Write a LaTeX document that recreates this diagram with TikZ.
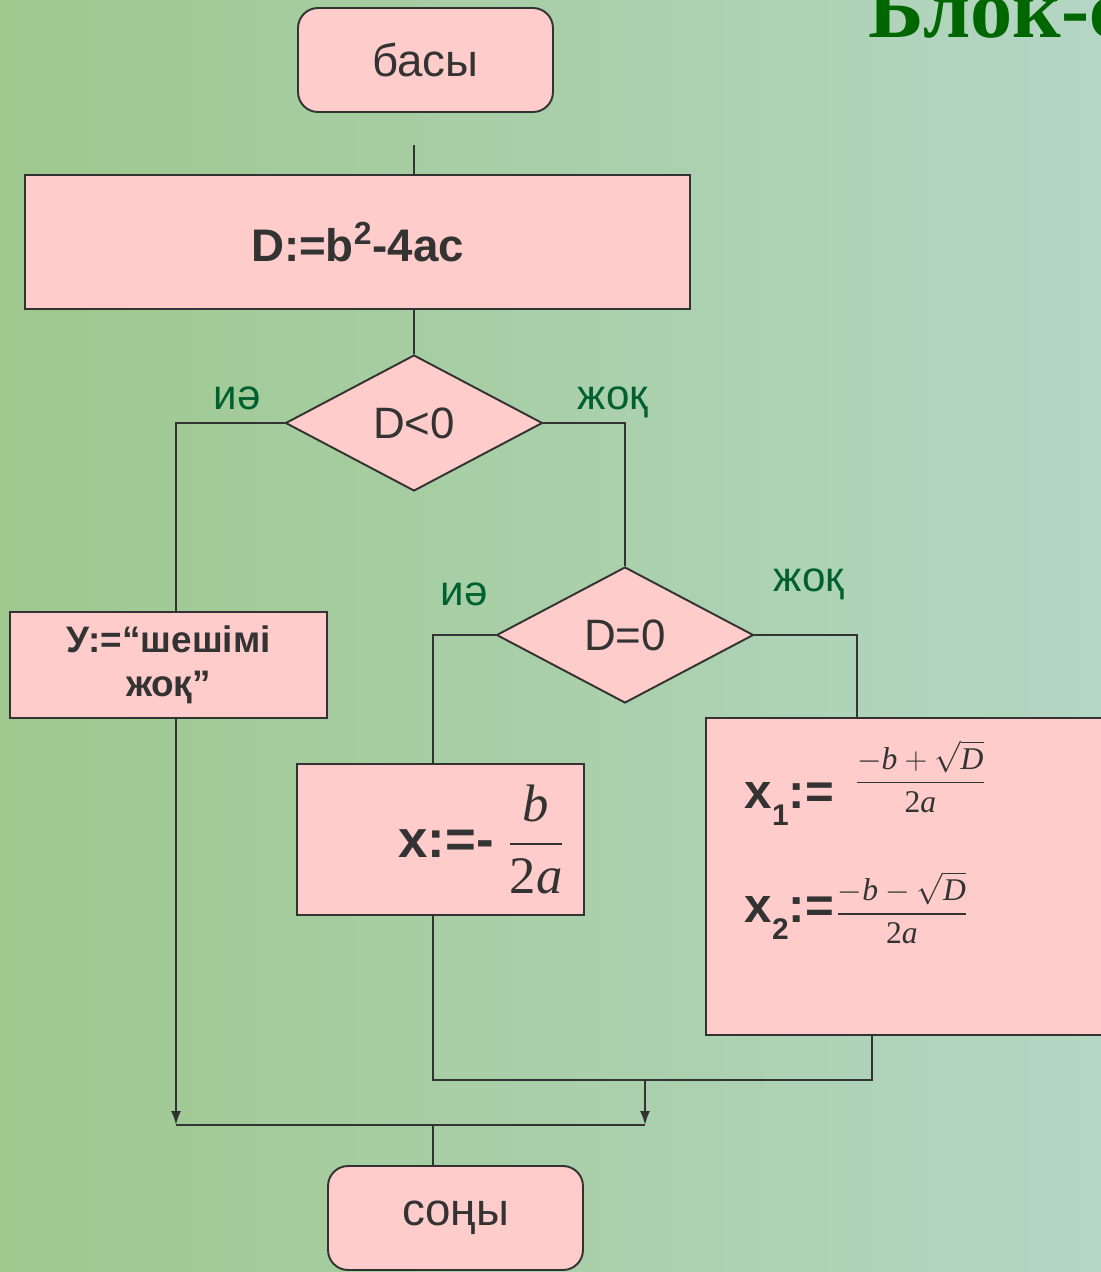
\documentclass[tikz,border=0pt]{standalone}
\usepackage{fix-cm}
\usepackage{amsmath}
\usepackage[no-math]{fontspec}
\setmainfont{Liberation Sans}
\newfontfamily\titlefont{Liberation Serif}
\usepackage{tikz}
\usetikzlibrary{shapes.geometric,arrows.meta}
\definecolor{bgleft}{RGB}{158,200,142}
\definecolor{bgmid}{RGB}{192,216,176}
\definecolor{bgright}{RGB}{180,214,196}
\definecolor{boxpink}{RGB}{255,204,204}
\definecolor{inkgray}{RGB}{51,51,51}
\definecolor{labelgreen}{RGB}{0,96,48}
\definecolor{titlegreen}{RGB}{0,102,0}
\newcommand{\lowsub}[1]{\raisebox{-10pt}{\fontsize{17}{17}\selectfont #1}}
\newcommand{\tv}[1]{\text{\titlefont\mdseries\itshape #1}}
\newcommand{\tn}[1]{\text{\titlefont\mdseries\upshape #1}}

\begin{document}
\begin{tikzpicture}
[x=0.02cm,y=-0.02cm,line width=1.1pt,color=inkgray,>={Latex[length=0.28cm,width=0.2cm]},
 box/.style={rectangle,draw,fill=boxpink,inner sep=0pt},
 term/.style={box,rounded corners=0.4cm,minimum width=5.1cm,minimum height=2.08cm,font=\fontsize{26}{30}\selectfont},
 cond/.style={diamond,draw,fill=boxpink,aspect=1.9,inner sep=0pt,minimum width=5.14cm,minimum height=2.72cm,font=\fontsize{25}{30}\selectfont},
 lbl/.style={anchor=base,text=labelgreen,font=\fontsize{24}{28}\selectfont}]
\useasboundingbox (0,0) rectangle (1101,1272);
\clip (0,0) rectangle (1101,1272);
\shade[left color=bgleft,middle color=bgmid,right color=bgright] (0,0) rectangle (1101,1272);
\node[anchor=base west,text=titlegreen,font=\titlefont\bfseries\fontsize{48}{52}\selectfont] (title) at (862,37) {Блок-схема};

% blocks
\node[term] (basy) at (425.5,60) {басы};
\node[box,minimum width=13.3cm,minimum height=2.68cm,font=\bfseries\fontsize{26}{30}\selectfont] (disc) at (357.5,242) {D:=b\textsuperscript{2}-4ac};
\node[cond] (dlt) at (414,423) {D<0};
\node[cond] (deq) at (625,635) {D=0};
\node[box,minimum width=6.34cm,minimum height=2.12cm,align=center,font=\bfseries\fontsize{21}{25}\selectfont] (nosol) at (168.5,665) {У:=“шешімі\\жоқ”};
\node[box,minimum width=5.74cm,minimum height=3.02cm,font=\fontsize{30}{34}\selectfont] (xone) at (440.5,839.5) {\hspace{1.64cm}\textbf{x:=-}\hspace{8pt}$\dfrac{\tv{b}}{\tn{2}\tv{a}}$};
\node[box,minimum width=8.88cm,minimum height=6.34cm] (roots) at (928,876.5) {};
\node[anchor=base west,font=\bfseries\fontsize{28}{32}\selectfont] (xa) at (738,808) {x\lowsub{1}:=\hspace{12pt}\raisebox{10pt}{\fontsize{18}{20}\selectfont$\dfrac{-\tv{b}+\sqrt{\tv{D}}}{\tn{2}\tv{a}}$}};
\node[anchor=base west,font=\bfseries\fontsize{28}{32}\selectfont] (xb) at (738,922) {x\lowsub{2}:=\hspace{1pt}{\fontsize{18}{20}\selectfont$\dfrac{-\tv{b}-\sqrt{\tv{D}}}{\tn{2}\tv{a}}$}};
\node[term] (sony) at (455.5,1218) {соңы};

% labels
\node[lbl] (yes1) at (237,409) {иә};
\node[lbl] (no1) at (613,409) {жоқ};
\node[lbl] (yes2) at (464,605) {иә};
\node[lbl] (no2) at (809,591) {жоқ};

% connectors
\coordinate (top) at (414,145);
\coordinate (lx) at (176,1125);
\coordinate (mx) at (433,1080);
\coordinate (rx) at (872,1080);
\coordinate (nx) at (857,628);
\coordinate (rj) at (645,1080);
\draw (top) -- (top |- disc.north);
\draw (disc.south -| top) -- (dlt.north);
\draw (dlt.west) -| (lx |- nosol.north);
\draw (dlt.east) -| (deq.north);
\draw (deq.west) -| (xone.north -| mx);
\draw (deq.east) -| (nx |- roots.north);
\draw[->] (nosol.south -| lx) -- (lx);
\draw (xone.south -| mx) -- (mx) -- (rx) -- (rx |- roots.south);
\draw[->] (rj) -- (rj |- lx);
\draw (lx) -- (lx -| rj);
\draw (lx -| mx) -- (sony.north -| mx);
\end{tikzpicture}
\end{document}
